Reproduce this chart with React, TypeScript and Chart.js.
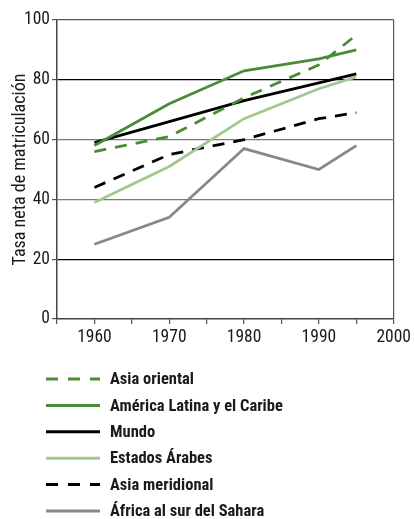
import React, { useEffect, useRef } from "react";
import { Chart, registerables } from "chart.js";

Chart.register(...registerables);

const years = [1960, 1970, 1980, 1990, 1995];
const asiaOriental = [56, 61, 74, 85, 95];
const americaLatina = [58, 72, 83, 87, 90];
const mundo = [59, 66, 73, 79, 82];
const estadosArabes = [39, 51, 67, 77, 81];
const asiaMeridional = [44, 55, 60, 67, 69];
const africaSur = [25, 34, 57, 50, 58];

const seriesNames = [
  "Asia oriental",
  "América Latina y el Caribe",
  "Mundo",
  "Estados Árabes",
  "Asia meridional",
  "África al sur del Sahara",
];
const yTitle = "Tasa neta de matriculación";
const xMin = 1955;
const xMax = 2000;
const yMin = 0;
const yMax = 100;

const FONT = "'Roboto Condensed', 'DejaVu Sans Condensed', sans-serif";

const GREEN = "#4b8b38";
const LIGHT_GREEN = "#a2c892";
const GRAY = "#888888";
const BLACK = "#000000";

const legendPlugin = {
  id: "verticalLegend",
  afterDraw(chart: any) {
    const ctx = chart.ctx;
    const top = chart.chartArea.bottom + 60;
    const step = 26.4;
    ctx.save();
    chart.data.datasets.forEach((ds: any, i: number) => {
      const y = top + i * step;
      ctx.beginPath();
      ctx.setLineDash(ds.legendDash || []);
      ctx.strokeStyle = ds.borderColor;
      ctx.lineWidth = 3;
      ctx.moveTo(46, y);
      ctx.lineTo(100, y);
      ctx.stroke();
      ctx.setLineDash([]);
      ctx.fillStyle = "#1a1a1a";
      ctx.font = `bold 16.5px ${FONT}`;
      ctx.textBaseline = "middle";
      ctx.textAlign = "left";
      ctx.fillText(ds.label, 110, y + 1);
    });
    ctx.restore();
  },
};

export default function App() {
  const ref = useRef<HTMLCanvasElement>(null);

  useEffect(() => {
    if (!ref.current) return;
    const mk = (vals: number[]) => vals.map((v, i) => ({ x: years[i], y: v }));
    const styles = [
      { color: GREEN, dash: [12, 9], legendDash: [12, 10] },
      { color: GREEN, dash: [], legendDash: [] },
      { color: BLACK, dash: [], legendDash: [] },
      { color: LIGHT_GREEN, dash: [], legendDash: [] },
      { color: BLACK, dash: [12, 9], legendDash: [12, 10] },
      { color: GRAY, dash: [], legendDash: [] },
    ];
    const values = [asiaOriental, americaLatina, mundo, estadosArabes, asiaMeridional, africaSur];
    const chart = new Chart(ref.current, {
      type: "line",
      data: {
        datasets: values.map((v, i) => ({
          label: seriesNames[i],
          data: mk(v),
          borderColor: styles[i].color,
          borderDash: styles[i].dash,
          borderWidth: 2.8,
          pointRadius: 0,
          fill: false,
          tension: 0,
          legendDash: styles[i].legendDash,
        })) as any,
      },
      options: {
        animation: false,
        responsive: false,
        maintainAspectRatio: false,
        layout: { padding: { top: 20, right: 17, left: 0, bottom: 0 } },
        plugins: {
          legend: { display: false },
          tooltip: { enabled: false },
        },
        scales: {
          x: {
            type: "linear",
            min: xMin,
            max: xMax,
            afterFit: (s: any) => {
              s.height = 200;
            },
            ticks: {
              stepSize: 5,
              autoSkip: false,
              maxRotation: 0,
              padding: 3,
              color: "#1a1a1a",
              font: { family: FONT, size: 17.5 },
              callback: (v: any) => (Number(v) % 10 === 0 && Number(v) !== xMin ? String(v) : ""),
            },
            grid: {
              drawOnChartArea: true,
              color: (c: any) => (c.tick && c.tick.value === xMax ? "#555555" : "rgba(0,0,0,0)"),
              tickColor: "#555555",
              tickLength: 5,
              lineWidth: 1.2,
            },
            border: { display: true, color: "#444444", width: 1.5 },
          },
          y: {
            min: yMin,
            max: yMax,
            afterFit: (s: any) => {
              s.width = 57;
            },
            ticks: {
              stepSize: 20,
              padding: 2,
              color: "#1a1a1a",
              font: { family: FONT, size: 17.5 },
            },
            grid: {
              color: (c: any) => {
                const v = c.tick ? c.tick.value : 0;
                if (v === 20 || v === 80) return "#000000";
                if (v === 40 || v === 60) return "#7a7a7a";
                if (v === 100) return "#555555";
                return "rgba(0,0,0,0)";
              },
              tickColor: "#555555",
              tickLength: 5,
              lineWidth: 1.2,
            },
            border: { display: true, color: "#444444", width: 1.5 },
            title: {
              display: true,
              text: yTitle,
              color: "#1a1a1a",
              font: { family: FONT, size: 18 },
              padding: { top: 10, bottom: 0 },
            },
          },
        },
      },
      plugins: [legendPlugin],
    });
    return () => chart.destroy();
  }, []);

  return (
    <div style={{ position: "absolute", left: 0, top: 0, width: 414, height: 519, background: "#ffffff" }}>
      <canvas ref={ref} width={414} height={519} style={{ display: "block", width: 414, height: 519 }} />
    </div>
  );
}
